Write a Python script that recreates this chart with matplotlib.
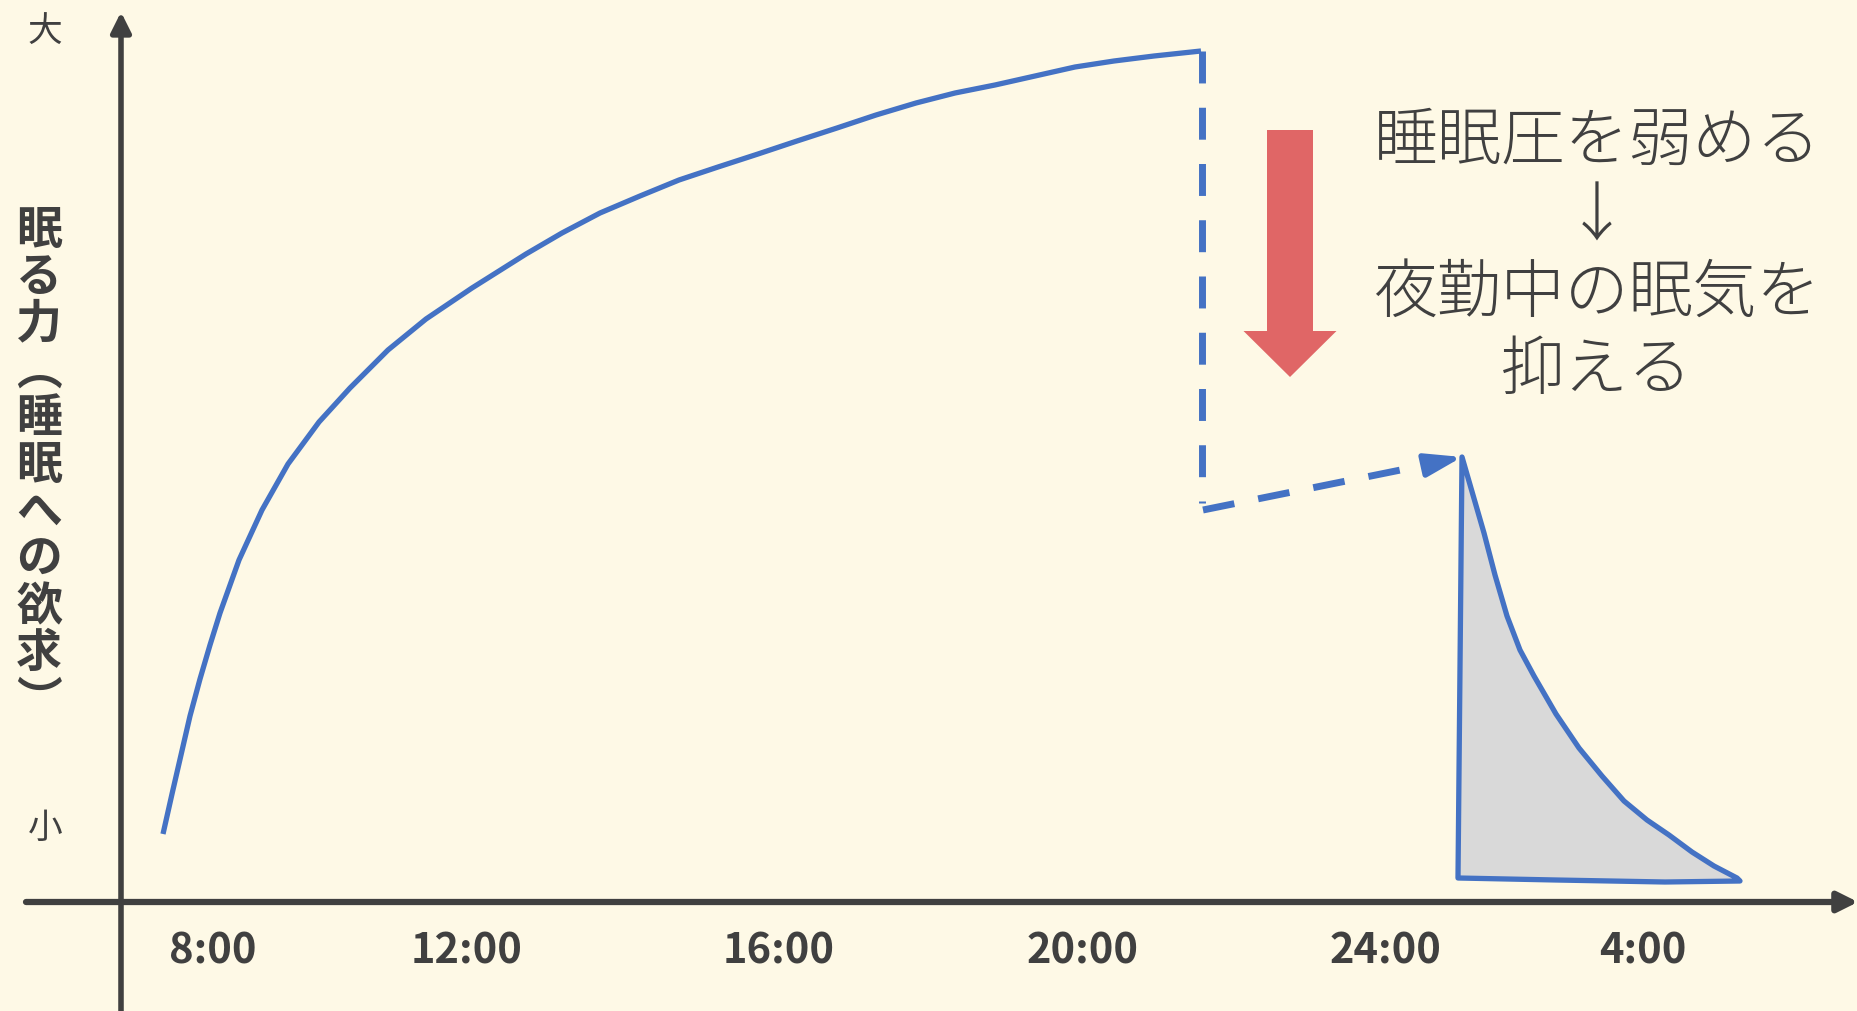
import matplotlib
matplotlib.use('Agg')
import matplotlib.pyplot as plt
import numpy as np

plt.rcParams['font.family'] = ['Noto Sans CJK JP', 'DejaVu Sans']

# diagram drawn in pixel coordinates of the 1858x1011 picture
W, H = 1858, 1011
bg = '#FEF9E6'
ink = '#404040'
blue = '#4472C4'

# awake curve: sleep pressure rising from 8:00 to ~21:00
curve_x = [163, 172, 181, 190, 200, 210, 220, 239, 262, 288, 319, 350, 388, 426, 472, 526, 562,
           600, 640, 679, 718, 758, 797, 837, 876, 916, 955, 995, 1035, 1075, 1114, 1154, 1201]
curve_y = [834, 794, 755, 716, 679, 645, 613, 560, 510, 464, 422, 388, 350, 319, 288, 254, 233,
           213, 196, 180, 167, 154, 141, 128, 115, 103, 93, 85, 76, 67, 61, 56, 51]

# nap -> pressure drops (dashed), then shifted up to night shift start
drop_x = [1202, 1202]
drop_y = [51, 503]
shift_x = [1203, 1445]
shift_y = [510, 461]
shift_tip = (1462, 457)

# grey area after the nap
area_x = [1462, 1473, 1484, 1495, 1507, 1520, 1534, 1556, 1579, 1602, 1624, 1647, 1669, 1692, 1714, 1737,
          1740, 1665, 1556, 1458, 1462]
area_y = [457, 495, 533, 575, 616, 650, 676, 714, 748, 776, 801, 820, 835, 852, 866, 878,
          881, 882, 880, 878, 457]

# red arrow
red_x, red_top, red_tip = 1290, 130, 377

# axis labels
tick_labels = ['8:00', '12:00', '16:00', '20:00', '24:00', '4:00']
tick_x = [213, 467, 779, 1083, 1386, 1643]
tick_y = 952
axis_x, axis_y = 121, 902

ylabel = '眠る力︵睡眠への欲求︶'
note = ['睡眠圧を弱める', '↓', '夜勤中の眠気を', '抑える']
note_y = [142, 218, 294, 371]

fig = plt.figure(figsize=(W / 100, H / 100), dpi=100, facecolor=bg)
ax = fig.add_axes([0, 0, 1, 1])
ax.set_facecolor(bg)
ax.set_xlim(0, W)
ax.set_ylim(H, 0)
ax.axis('off')

# axes with arrows
ax.annotate('', xy=(axis_x, 12), xytext=(axis_x, H + 5),
            arrowprops=dict(arrowstyle='-|>,head_length=12,head_width=6', lw=4, color=ink,
                            shrinkA=0, shrinkB=0, mutation_scale=1))
ax.annotate('', xy=(W, axis_y), xytext=(26, axis_y),
            arrowprops=dict(arrowstyle='-|>,head_length=12,head_width=6', lw=4.5, color=ink,
                            shrinkA=0, shrinkB=0, mutation_scale=1))

# curves
ax.plot(curve_x, curve_y, color=blue, lw=3.8, solid_capstyle='butt', solid_joinstyle='round')
ax.fill(area_x, area_y, facecolor='#D9D9D9', edgecolor=blue, lw=3.8, joinstyle='round')
ax.plot(drop_x, drop_y, color=blue, lw=5, linestyle=(0, (4.6, 3.5)))
ax.plot(shift_x, shift_y, color=blue, lw=5, linestyle=(0, (4.6, 3.5)))
ax.annotate('', xy=shift_tip, xytext=(shift_x[1] - 15, shift_y[1] + 3),
            arrowprops=dict(arrowstyle='-|>,head_length=22,head_width=7', lw=4, color=blue,
                            shrinkA=0, shrinkB=0, mutation_scale=1))

# red arrow
ax.arrow(red_x, red_top, 0, red_tip - red_top, width=46, head_width=93, head_length=46,
         length_includes_head=True, color='#E06666', lw=0)

# texts
for lab, x in zip(tick_labels, tick_x):
    ax.text(x, tick_y, lab, ha='center', va='center', fontsize=30, fontweight='bold', color=ink)
ax.text(45, 32, '大', ha='center', va='center', fontsize=25, color=ink)
ax.text(45, 828, '小', ha='center', va='center', fontsize=25, color=ink)
ax.text(39, 466, '\n'.join(ylabel), ha='center', va='center', fontsize=33, fontweight='bold',
        color=ink, linespacing=1.03)
for t, y in zip(note, note_y):
    ax.text(1597, y, t, ha='center', va='center', fontsize=46, fontweight='light', color=ink)

plt.savefig('out.png', dpi=100, facecolor=bg)
